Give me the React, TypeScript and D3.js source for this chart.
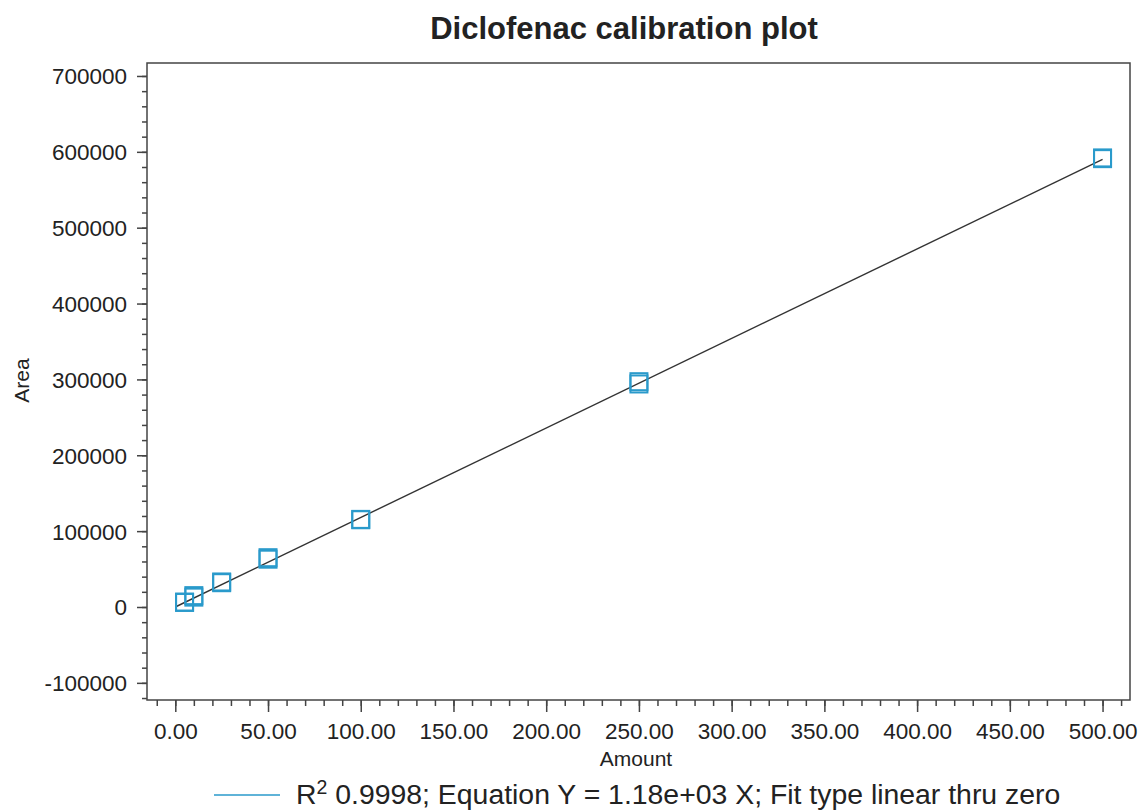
import { useEffect, useRef } from 'react';
import * as d3 from 'd3';

// calibration data
const amounts = [5, 10, 25, 50, 100, 250, 500];
const areasRep1 = [6500, 15000, 33000, 63000, 115000, 297000, 592000];
const areasRep2 = [6000, 13000, 32000, 65000, 115500, 294000, 591000];

// fit through zero
const fitSlope = 1.18e3;
const fitR2 = 0.9998;
const fitRange = [0, 500];

const xMajorTicks = [0, 50, 100, 150, 200, 250, 300, 350, 400, 450, 500];
const yMajorTicks = [-100000, 0, 100000, 200000, 300000, 400000, 500000, 600000, 700000];

const W = 1139;
const H = 810;
const FONT = '"Liberation Sans", Arial, sans-serif';

export default function App() {
  const ref = useRef<SVGSVGElement | null>(null);

  useEffect(() => {
    const svg = d3.select(ref.current);
    svg.selectAll('*').remove();

    const left = 147;
    const right = 1130;
    const top = 63;
    const bottom = 700;

    const x = d3.scaleLinear().domain([-15.26, 514.8]).range([left, right]);
    const y = d3.scaleLinear().domain([-122600, 717100]).range([bottom, top]);

    const axisColor = '#444';

    // frame
    svg
      .append('rect')
      .attr('x', left)
      .attr('y', top)
      .attr('width', right - left)
      .attr('height', bottom - top)
      .attr('fill', 'none')
      .attr('stroke', axisColor)
      .attr('stroke-width', 1.5);

    // y axis
    const yMinor = d3.range(-120000, 700001, 20000);
    const gyMinor = svg
      .append('g')
      .attr('transform', `translate(${left},0)`)
      .call(d3.axisLeft(y).tickValues(yMinor).tickSize(5).tickFormat(() => ''));
    const gy = svg
      .append('g')
      .attr('transform', `translate(${left},0)`)
      .call(d3.axisLeft(y).tickValues(yMajorTicks).tickSize(10).tickPadding(10).tickFormat(d => String(d)));

    // x axis
    const xMinor = d3.range(-10, 511, 10);
    const gxMinor = svg
      .append('g')
      .attr('transform', `translate(0,${bottom})`)
      .call(d3.axisBottom(x).tickValues(xMinor).tickSize(6).tickFormat(() => ''));
    const gx = svg
      .append('g')
      .attr('transform', `translate(0,${bottom})`)
      .call(d3.axisBottom(x).tickValues(xMajorTicks).tickSize(12).tickPadding(10).tickFormat(d => (d as number).toFixed(2)));

    [gyMinor, gy, gxMinor, gx].forEach(g => {
      g.select('.domain').remove();
      g.selectAll('line').attr('stroke', axisColor).attr('stroke-width', 1.5);
      g.selectAll('text')
        .attr('font-family', FONT)
        .attr('font-size', 22.5)
        .attr('fill', '#222');
    });
    gy.selectAll('text').attr('dy', '0.35em');
    gx.selectAll('text').attr('dy', '0.75em');

    // fit line
    const line = d3
      .line<number>()
      .x(d => x(d))
      .y(d => y(d * fitSlope));
    svg
      .append('path')
      .attr('d', line(fitRange))
      .attr('fill', 'none')
      .attr('stroke', '#333')
      .attr('stroke-width', 1.4);

    // points
    const markColor = '#2a9acb';
    const s = 17;
    [areasRep1, areasRep2].forEach(areas => {
      svg
        .append('g')
        .selectAll('rect')
        .data(amounts.map((a, i) => ({ a, v: areas[i] })))
        .enter()
        .append('rect')
        .attr('x', d => x(d.a) - s / 2)
        .attr('y', d => y(d.v) - s / 2)
        .attr('width', s)
        .attr('height', s)
        .attr('fill', 'none')
        .attr('stroke', markColor)
        .attr('stroke-width', 2);
    });

    // title
    svg
      .append('text')
      .attr('x', 624)
      .attr('y', 39)
      .attr('text-anchor', 'middle')
      .attr('font-family', FONT)
      .attr('font-weight', 'bold')
      .attr('font-size', 31)
      .attr('fill', '#222')
      .text('Diclofenac calibration plot');

    // axis titles
    svg
      .append('text')
      .attr('x', 636)
      .attr('y', 766)
      .attr('text-anchor', 'middle')
      .attr('font-family', FONT)
      .attr('font-size', 21)
      .attr('fill', '#222')
      .text('Amount');

    svg
      .append('text')
      .attr('transform', `translate(29,${(top + bottom) / 2 - 1}) rotate(-90)`)
      .attr('text-anchor', 'middle')
      .attr('font-family', FONT)
      .attr('font-size', 21)
      .attr('fill', '#222')
      .text('Area');

    // legend
    svg
      .append('line')
      .attr('x1', 214)
      .attr('x2', 280)
      .attr('y1', 795)
      .attr('y2', 795)
      .attr('stroke', markColor)
      .attr('stroke-width', 1.5);

    const lt = svg
      .append('text')
      .attr('x', 296)
      .attr('y', 804)
      .attr('font-family', FONT)
      .attr('font-size', 28.4)
      .attr('fill', '#222');
    lt.append('tspan').text('R');
    lt.append('tspan').attr('dy', -10).attr('font-size', 19.5).text('2');
    lt.append('tspan')
      .attr('dy', 10)
      .text(` ${fitR2}; Equation Y = ${fitSlope.toExponential(2).replace('e+3', 'e+03')} X; Fit type linear thru zero`);
  }, []);

  return (
    <svg
      ref={ref}
      width={W}
      height={H}
      style={{ position: 'absolute', left: 0, top: 0, background: '#fff' }}
    ></svg>
  );
}
